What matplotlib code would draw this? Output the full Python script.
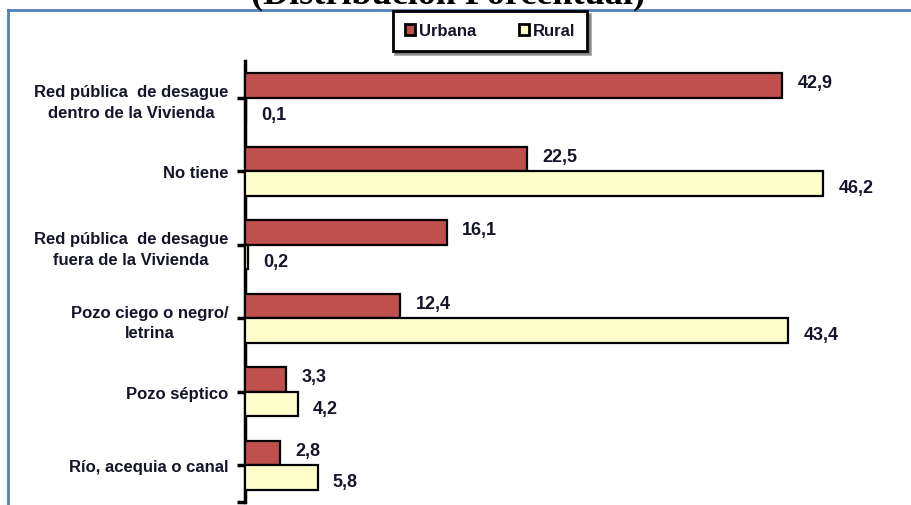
import matplotlib
matplotlib.use('Agg')
import matplotlib.pyplot as plt
from matplotlib.patches import Rectangle
from matplotlib.lines import Line2D
import numpy as np

# data
categories = ['Red pública  de desague\ndentro de la Vivienda',
              'No tiene',
              'Red pública  de desague\nfuera de la Vivienda',
              'Pozo ciego o negro/\nletrina',
              'Pozo séptico',
              'Río, acequia o canal']
urbana = [42.9, 22.5, 16.1, 12.4, 3.3, 2.8]
rural = [0.1, 46.2, 0.2, 43.4, 4.2, 5.8]
series_names = ['Urbana', 'Rural']

plt.rcParams['font.family'] = ['Liberation Sans', 'DejaVu Sans']
txt_color = '#14142b'
red = '#c0504d'
cream = '#ffffcc'

fig = plt.figure(figsize=(9.12, 5.06), dpi=100)
W, H = 912, 506
ax = fig.add_axes([245 / W, 3 / H, 655 / W, 441 / H])

y = np.arange(len(categories))
h = 0.33
ax.barh(y - h / 2, urbana, height=h, color=red, edgecolor='black', linewidth=1.6, zorder=3)
ax.barh(y + h / 2, rural, height=h, color=cream, edgecolor='black', linewidth=1.6, zorder=3)

for i in range(len(categories)):
    ax.annotate(f'{urbana[i]:.1f}'.replace('.', ','), (urbana[i], y[i] - h / 2),
                xytext=(11, 2), textcoords='offset points', va='center', ha='left',
                fontsize=13, fontweight='bold', color=txt_color)
    ax.annotate(f'{rural[i]:.1f}'.replace('.', ','), (rural[i], y[i] + h / 2),
                xytext=(11, -3), textcoords='offset points', va='center', ha='left',
                fontsize=13, fontweight='bold', color=txt_color)

ax.set_xlim(0, 655 / 12.52)
ax.set_ylim(len(categories) - 0.5, -0.5)
ax.set_yticks(y)
ax.set_yticklabels(categories, fontsize=12, fontweight='bold', color=txt_color,
                   multialignment='center', linespacing=1.45)
ax.set_yticks([len(categories) - 0.5], minor=True)
ax.tick_params(axis='y', which='both', direction='out', length=6, width=2.5, pad=6)
ax.set_xticks([])
for s in ['top', 'right', 'bottom']:
    ax.spines[s].set_visible(False)
ax.spines['left'].set_linewidth(2.5)

# legend
handles = [Rectangle((0, 0), 1, 1, facecolor=red, edgecolor='black', linewidth=2),
           Rectangle((0, 0), 1, 1, facecolor=cream, edgecolor='black', linewidth=2)]
leg = fig.legend(handles, series_names, loc='center', bbox_to_anchor=(490 / W, 1 - 32 / H),
                 ncol=2, frameon=True, fancybox=False, shadow=True,
                 prop={'weight': 'bold', 'size': 12}, handlelength=0.6, handleheight=0.6,
                 handletextpad=0.2, columnspacing=2.6, borderpad=0.75, borderaxespad=0)
leg.get_frame().set_edgecolor('black')
leg.get_frame().set_linewidth(2)
for t in leg.get_texts():
    t.set_color(txt_color)

# outer blue frame and cut-off title
fig.add_artist(Line2D([8 / W, 1], [1 - 11 / H, 1 - 11 / H], color='#4f81bd', linewidth=2))
fig.add_artist(Line2D([8 / W, 8 / W], [0, 1 - 11 / H], color='#4f81bd', linewidth=2))
fig.text(448 / W, 1 - 3 / H, '(Distribución Porcentual)', ha='center', va='baseline',
         fontsize=26, fontweight='bold', family='Liberation Serif')

fig.savefig('out.png', dpi=100)
